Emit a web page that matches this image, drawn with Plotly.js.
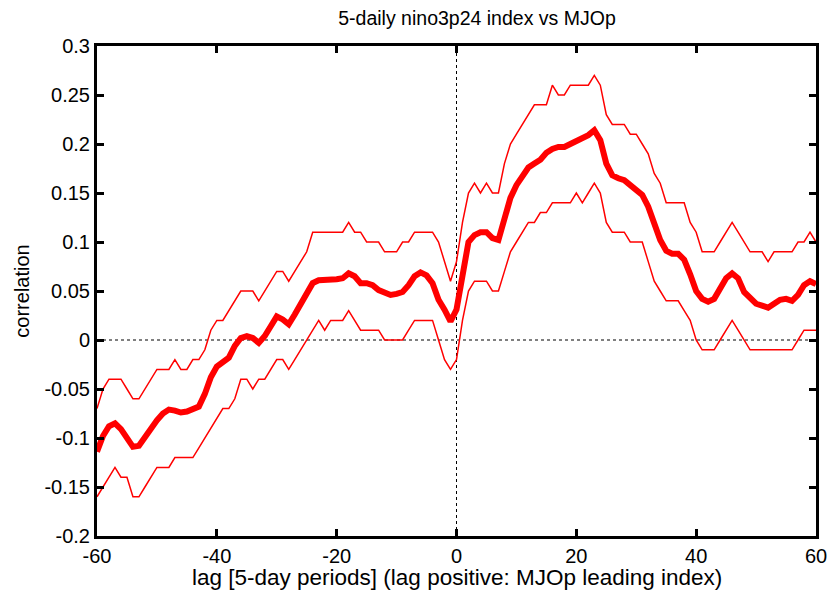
<!DOCTYPE html>
<html>
<head>
<meta charset="utf-8">
<script src="https://cdn.plot.ly/plotly-3.0.1.min.js"></script>
<style>html,body{margin:0;padding:0;background:#fff;}#chart{width:829px;height:590px;}</style>
</head>
<body>
<div id="chart"></div>
<script>
const lags = [-60,-59,-58,-57,-56,-55,-54,-53,-52,-51,-50,-49,-48,-47,-46,-45,-44,-43,-42,-41,
  -40,-39,-38,-37,-36,-35,-34,-33,-32,-31,-30,-29,-28,-27,-26,-25,-24,-23,-22,-21,
  -20,-19,-18,-17,-16,-15,-14,-13,-12,-11,-10,-9,-8,-7,-6,-5,-4,-3,-2,-1,
  0,1,2,3,4,5,6,7,8,9,10,11,12,13,14,15,16,17,18,19,
  20,21,22,23,24,25,26,27,28,29,30,31,32,33,34,35,36,37,38,39,
  40,41,42,43,44,45,46,47,48,49,50,51,52,53,54,55,56,57,58,59,60];

const correlation = [-0.114,-0.098,-0.088,-0.085,-0.091,-0.100,-0.109,-0.108,-0.099,-0.091,
  -0.082,-0.075,-0.071,-0.072,-0.074,-0.073,-0.071,-0.068,-0.055,-0.038,
  -0.027,-0.023,-0.018,-0.006,0.002,0.004,0.002,-0.003,0.004,0.014,
  0.024,0.021,0.016,0.026,0.037,0.048,0.058,0.061,0.061,0.062,
  0.062,0.063,0.068,0.065,0.058,0.058,0.056,0.051,0.048,0.046,
  0.047,0.049,0.056,0.065,0.069,0.066,0.058,0.041,0.031,0.019,
  0.031,0.067,0.100,0.107,0.110,0.110,0.104,0.102,0.126,0.145,
  0.158,0.168,0.176,0.180,0.184,0.191,0.195,0.197,0.197,0.200,
  0.203,0.205,0.209,0.214,0.204,0.180,0.168,0.165,0.163,0.158,
  0.153,0.148,0.136,0.119,0.102,0.091,0.088,0.088,0.082,0.067,
  0.050,0.042,0.039,0.042,0.052,0.063,0.068,0.063,0.049,0.042,
  0.037,0.035,0.033,0.037,0.041,0.042,0.040,0.046,0.056,0.060,0.057];

const upperBound = [-0.07,-0.05,-0.04,-0.04,-0.04,-0.05,-0.06,-0.06,-0.05,-0.04,
  -0.03,-0.03,-0.03,-0.02,-0.03,-0.03,-0.02,-0.02,-0.01,0.01,
  0.02,0.02,0.03,0.04,0.05,0.05,0.05,0.04,0.05,0.06,
  0.07,0.07,0.06,0.07,0.08,0.09,0.11,0.11,0.11,0.11,
  0.11,0.11,0.12,0.11,0.11,0.10,0.10,0.10,0.09,0.09,
  0.09,0.10,0.10,0.11,0.11,0.11,0.11,0.10,0.08,0.06,
  0.08,0.12,0.15,0.16,0.15,0.16,0.15,0.15,0.18,0.20,
  0.21,0.22,0.23,0.24,0.24,0.24,0.26,0.25,0.25,0.26,
  0.26,0.26,0.26,0.27,0.26,0.23,0.22,0.22,0.22,0.21,
  0.21,0.20,0.19,0.17,0.16,0.14,0.14,0.14,0.14,0.12,
  0.11,0.09,0.09,0.09,0.10,0.11,0.12,0.11,0.10,0.09,
  0.09,0.09,0.08,0.09,0.09,0.09,0.09,0.10,0.10,0.11,0.10];

const lowerBound = [-0.16,-0.15,-0.14,-0.13,-0.14,-0.14,-0.16,-0.16,-0.15,-0.14,
  -0.13,-0.13,-0.13,-0.12,-0.12,-0.12,-0.12,-0.11,-0.10,-0.09,
  -0.08,-0.07,-0.07,-0.06,-0.04,-0.04,-0.05,-0.04,-0.04,-0.03,
  -0.02,-0.02,-0.03,-0.02,-0.01,0.00,0.01,0.02,0.01,0.02,
  0.02,0.02,0.03,0.02,0.01,0.01,0.01,0.01,0.00,0.00,
  0.00,0.00,0.01,0.02,0.02,0.02,0.02,0.00,-0.02,-0.03,
  -0.02,0.02,0.05,0.06,0.06,0.06,0.05,0.05,0.07,0.09,
  0.10,0.11,0.12,0.12,0.13,0.13,0.14,0.14,0.14,0.14,
  0.15,0.14,0.15,0.16,0.15,0.12,0.11,0.11,0.11,0.10,
  0.10,0.10,0.08,0.06,0.05,0.04,0.04,0.04,0.03,0.02,
  0.00,-0.01,-0.01,-0.01,0.00,0.01,0.02,0.01,0.00,-0.01,
  -0.01,-0.01,-0.01,-0.01,-0.01,-0.01,-0.01,0.00,0.01,0.01,0.01];

const xTickVals = [-60,-40,-20,0,20,40,60];
const xTickText = ['-60','-40','-20','0','20','40','60'];
const yTickVals = [-0.2,-0.15,-0.1,-0.05,0,0.05,0.1,0.15,0.2,0.25,0.3];
const yTickText = ['-0.2','-0.15','-0.1','-0.05','0','0.05','0.1','0.15','0.2','0.25','0.3'];

const chartTitle = '5-daily nino3p24 index vs MJOp';
const xTitle = 'lag [5-day periods] (lag positive: MJOp leading index)';
const yTitle = 'correlation';

const FONT = 'Liberation Sans, Arial, sans-serif';

const traces = [
  {x: lags, y: upperBound, type: 'scatter', mode: 'lines', line: {color: '#ff0000', width: 1.5}, hoverinfo: 'skip'},
  {x: lags, y: lowerBound, type: 'scatter', mode: 'lines', line: {color: '#ff0000', width: 1.5}, hoverinfo: 'skip'},
  {x: lags, y: correlation, type: 'scatter', mode: 'lines', line: {color: '#ff0000', width: 6}, hoverinfo: 'skip'}
];

const axisCommon = {
  showline: true, linecolor: '#000', linewidth: 3, mirror: 'allticks',
  ticks: 'inside', ticklen: 7, tickwidth: 3, tickcolor: '#000',
  showgrid: false, zeroline: false, tickmode: 'array',
  tickfont: {family: FONT, size: 20, color: '#000'}
};

const layout = {
  width: 829, height: 590,
  margin: {l: 97, r: 13, t: 46, b: 54, pad: 0},
  paper_bgcolor: '#fff', plot_bgcolor: '#fff',
  showlegend: false,
  font: {family: FONT, color: '#000'},
  title: {text: chartTitle, font: {family: FONT, size: 19.5, color: '#000'},
          xref: 'container', x: 0.5754, xanchor: 'center', yref: 'container', y: 0.969, yanchor: 'middle'},
  xaxis: Object.assign({}, axisCommon, {range: [-60, 60], tickvals: xTickVals, ticktext: xTickText}),
  yaxis: Object.assign({}, axisCommon, {range: [-0.2, 0.3], tickvals: yTickVals, ticktext: yTickText,
    title: {text: yTitle, font: {family: FONT, size: 20, color: '#000'}, standoff: 10}}),
  annotations: [
    {text: xTitle, xref: 'paper', yref: 'paper', x: 0.5, y: -0.0857, xanchor: 'center', yanchor: 'middle',
     showarrow: false, font: {family: FONT, size: 22.5, color: '#000'}}
  ],
  shapes: [
    {type: 'line', xref: 'paper', yref: 'y', x0: 0, x1: 1, y0: 0, y1: 0, layer: 'below', line: {color: '#000', width: 1, dash: 'dot'}},
    {type: 'line', xref: 'x', yref: 'paper', x0: 0, x1: 0, y0: 0, y1: 1, layer: 'below', line: {color: '#000', width: 1, dash: 'dot'}}
  ]
};

Plotly.newPlot('chart', traces, layout, {displayModeBar: false, staticPlot: true});
</script>
</body>
</html>
